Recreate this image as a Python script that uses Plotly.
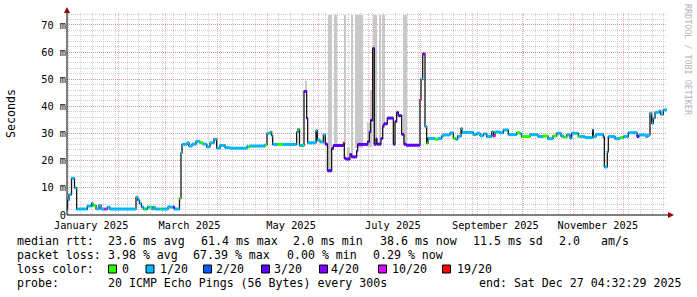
import pandas as pd
import plotly.graph_objects as go

# ---------------- data ----------------
range_start = "2025-01-01 00:00:00"
range_end = "2025-12-27 00:00:00"

# median rtt steps: day offset from range_start, value (ms), loss level index
median_day = [0.0, 0.3, 1.2, 2.7, 4.5, 5.8, 12.2, 14.7, 15.6, 17.4, 19.2, 20.4, 22.4, 23.8, 24.3, 25.8,
              41.4, 42.4, 43.5, 44.7, 45.9, 46.8, 48.3, 49.8, 51.0, 51.6, 52.8, 55.6, 56.4, 60.6, 61.8,
              63.6, 64.5, 67.5, 68.4, 69.0, 72.0, 73.2, 75.0, 77.4, 79.8, 81.6, 83.8, 85.8, 88.2, 89.8,
              91.8, 94.8, 97.8, 108.0, 108.6, 109.8, 118.8, 120.0, 122.2, 122.8, 123.4, 126.6, 129.6,
              137.8, 138.6, 139.5, 141.6, 142.2, 143.8, 144.4, 149.4, 150.2, 151.8, 153.8, 155.0, 156.3,
              158.8, 159.8, 165.8, 166.4, 167.4, 169.8, 170.8, 173.8, 174.4, 180.4, 181.4, 182.2, 183.4,
              184.4, 185.4, 186.0, 188.4, 189.4, 190.2, 192.2, 195.8, 196.8, 197.8, 198.8, 200.8, 202.2,
              203.4, 211.8, 212.4, 213.4, 214.8, 215.8, 216.6, 220.8, 222.6, 224.8, 225.6, 229.8, 231.8,
              233.2, 234.4, 236.4, 237.0, 243.8, 245.8, 247.8, 249.8, 251.8, 254.8, 255.8, 256.8, 259.8,
              261.8, 264.8, 269.8, 271.8, 272.8, 277.8, 282.6, 285.6, 288.6, 291.6, 293.8, 296.4, 297.8,
              299.8, 301.8, 302.8, 306.8, 307.8, 310.8, 315.4, 315.8, 317.4, 321.8, 322.4, 324.2, 324.8,
              328.8, 331.8, 333.8, 336.8, 342.0, 343.2, 347.4, 348.6, 349.8, 350.8, 351.8, 352.8, 355.4,
              356.2, 357.8]
median_ms = [2.2, 5.5, 7.5, 13.5, 10.0, 2.2, 3.3, 4.3, 3.5, 2.3, 3.5, 2.2, 2.2, 2.2, 2.9, 2.2,
             6.5, 5.5, 4.3, 2.9, 2.2, 2.2, 2.9, 2.9, 2.2, 2.9, 2.2, 2.2, 2.2, 3.0, 2.9,
             2.9, 2.2, 6.1, 22.8, 26.0, 26.6, 25.4, 26.1, 27.1, 26.6, 26.1, 25.1, 26.6, 27.9, 24.6,
             25.6, 24.8, 24.6, 25.3, 25.1, 25.4, 25.9, 30.1, 30.6, 29.2, 26.0, 26.0, 26.0,
             30.5, 31.6, 25.6, 25.6, 45.5, 35.6, 26.6, 31.1, 27.6, 26.9, 29.5, 26.1, 16.3,
             24.5, 25.6, 26.5, 20.9, 20.6, 22.3, 21.4, 23.6, 26.0, 27.0, 30.5, 34.9, 61.4,
             26.1, 28.0, 26.1, 28.2, 32.8, 33.6, 35.7, 26.1, 34.4, 37.8, 36.6, 29.7, 26.1,
             25.7, 42.5, 50.0, 59.3, 32.6, 26.4, 28.2, 27.9, 28.2, 29.0, 29.5, 30.2, 28.2,
             27.9, 29.0, 31.9, 30.4, 29.6, 30.1, 29.2, 29.9, 28.9, 30.6, 29.1, 30.6, 30.3,
             31.3, 29.6, 30.3, 29.9, 28.9, 29.6, 28.9, 29.1, 28.1, 29.1, 30.1, 29.1, 28.7,
             29.5, 28.3, 30.1, 28.9, 28.9, 28.5, 31.3, 28.9, 29.7, 28.7, 17.7, 23.3, 28.9,
             28.1, 28.5, 28.9, 30.3, 28.9, 29.5, 28.9, 29.5, 37.5, 33.8, 35.7, 37.8, 38.3,
             37.1, 38.7]
median_loss = [1, 1, 1, 1, 1, 1, 1, 1, 0, 1, 1, 1, 5, 1, 1, 1,
               1, 1, 1, 1, 0, 1, 1, 0, 1, 1, 1, 0, 1, 1, 1,
               3, 1, 0, 1, 1, 1, 1, 1, 1, 0, 1, 1, 1, 1, 1,
               1, 1, 1, 1, 0, 1, 0, 1, 0, 1, 1, 0, 1,
               1, 0, 1, 0, 3, 3, 1, 1, 1, 1, 1, 3, 3,
               3, 3, 6, 3, 3, 3, 3, 3, 3, 3, 3, 3, 3,
               3, 3, 3, 3, 3, 3, 3, 3, 3, 3, 3, 3, 3,
               3, 5, 1, 4, 1, 0, 1, 0, 1, 1, 1, 1, 0,
               1, 1, 1, 1, 1, 1, 1, 1, 1, 1, 5, 1, 1,
               1, 1, 0, 1, 0, 1, 1, 0, 1, 0, 1, 1, 0,
               1, 1, 1, 0, 1, 1, 1, 1, 1, 2, 1, 1, 1,
               1, 0, 1, 1, 3, 1, 1, 1, 1, 1, 1, 1, 1,
               1, 1]

# smoke (ping spread) bands: start/end day offset, low/high ms
smoke_start_day = [142.8, 153.8, 156.4, 160.4, 166.4, 168.2, 170.8, 172.8, 180.2, 181.8, 183.4, 187.4, 189.0, 201.4]
smoke_end_day = [144.0, 155.0, 158.8, 161.8, 167.2, 169.8, 171.8, 177.4, 181.8, 183.2, 186.2, 188.4, 190.8, 203.8]
smoke_lo_ms = [45.5, 26.0, 16.0, 25.5, 26.0, 20.0, 21.0, 24.5, 25.0, 25.0, 25.5, 26.0, 32.0, 26.0]
smoke_hi_ms = [49.5, 29.0, 73.8, 73.8, 73.8, 25.0, 73.8, 73.8, 34.0, 46.0, 73.8, 73.8, 73.8, 73.8]

loss_labels = ["0", "1/20", "2/20", "3/20", "4/20", "10/20", "19/20"]
loss_colors = ["#26ff00", "#00b8ff", "#0059ff", "#5e00ff", "#7e00ff", "#dd00ff", "#ff0000"]

month_label_dates = ["2025-01-15 12:00", "2025-03-15 12:00", "2025-05-15 12:00",
                     "2025-07-15 12:00", "2025-09-15 00:00", "2025-11-15 12:00"]
month_labels = ["January 2025", "March 2025", "May 2025", "July 2025", "September 2025", "November 2025"]

y_tick_vals = [0, 10, 20, 30, 40, 50, 60, 70]
y_tick_text = ["0", "10 m", "20 m", "30 m", "40 m", "50 m", "60 m", "70 m"]

rtt_items = ["median rtt:", "23.6 ms avg", "61.4 ms max", "2.0 ms min", "38.6 ms now", "11.5 ms sd", "2.0", "am/s"]
loss_items = ["packet loss:", "3.98 % avg", "67.39 % max", "0.00 % min", "0.29 % now"]
probe_items = ["probe:", "20 ICMP Echo Pings (56 Bytes) every 300s", "end: Sat Dec 27 04:32:29 2025"]

# ---------------- layout helpers ----------------
W, H = 697, 297
PL, PR, PT, PB = 67, 667, 13, 215


def px(x):
    return (x - PL) / (PR - PL)


def py(y):
    return (PB - y) / (PB - PT)


t0 = pd.Timestamp(range_start)
t_end = pd.Timestamp(range_end)


def d2t(d):
    return (t0 + pd.to_timedelta(d, unit="D")).strftime("%Y-%m-%d %H:%M:%S")


fig = go.Figure()

# smoke
centers, widths, heights = [], [], []
for s, e, lo, hi in zip(smoke_start_day, smoke_end_day, smoke_lo_ms, smoke_hi_ms):
    centers.append(d2t((s + e) / 2))
    widths.append((e - s) * 86400000)
    heights.append(hi - lo)
fig.add_trace(go.Bar(x=centers, y=heights, base=smoke_lo_ms, width=widths,
                     marker=dict(color="#c8c8c8", line=dict(width=0)), hoverinfo="skip"))

# black step line
times = [d2t(d) for d in median_day]
end_str = t_end.strftime("%Y-%m-%d %H:%M:%S")
fig.add_trace(go.Scatter(x=times + [end_str], y=median_ms + [median_ms[-1]], mode="lines",
                         line=dict(shape="hv", color="#1a1a1a", width=1.3), hoverinfo="skip"))

# coloured segments by loss
ends = times[1:] + [end_str]
for li, col in enumerate(loss_colors):
    xs, ys = [], []
    for a, b, v, l in zip(times, ends, median_ms, median_loss):
        if l == li:
            xs += [a, b, None]
            ys += [v, v, None]
    if xs:
        fig.add_trace(go.Scatter(x=xs, y=ys, mode="lines",
                                 line=dict(color=col, width=3), hoverinfo="skip"))

# invisible trace so the label axis is rendered
fig.add_trace(go.Scatter(x=[range_start, range_end], y=[None, None], xaxis="x2", yaxis="y",
                         mode="lines", hoverinfo="skip", showlegend=False))

grid_minor = "#cfcfcf"
grid_major = "rgba(230,110,110,0.55)"
axis_font = dict(family="DejaVu Sans Mono", size=10.3, color="#000")
leg_font = dict(family="DejaVu Sans Mono", size=11.6, color="#000")

fig.update_layout(
    width=W, height=H, margin=dict(l=PL, r=W - PR, t=PT, b=H - PB),
    paper_bgcolor="white", plot_bgcolor="white", showlegend=False,
    barmode="overlay", bargap=0,
    xaxis=dict(type="date", range=[range_start, range_end], tickmode="linear",
               tick0="2025-01-01", dtick="M1", showticklabels=False, ticks="",
               showgrid=True, gridcolor=grid_major, griddash="1px,1px", gridwidth=1,
               minor=dict(tickmode="linear", tick0="2025-01-02", dtick=7 * 86400000,
                          showgrid=True, gridcolor=grid_minor, griddash="1px,1px", gridwidth=1),
               zeroline=False, showline=False, fixedrange=True),
    xaxis2=dict(type="date", range=[range_start, range_end], overlaying="x", anchor="y",
                side="bottom", tickmode="array", tickvals=month_label_dates, ticktext=month_labels,
                showgrid=False, ticks="", showline=False, zeroline=False, tickfont=axis_font,
                ticklabelstandoff=3, fixedrange=True),
    yaxis=dict(range=[0, 74.4], tickmode="array", tickvals=y_tick_vals, ticktext=y_tick_text,
               showgrid=True, gridcolor=grid_major, griddash="1px,1px", gridwidth=1,
               minor=dict(tickmode="linear", tick0=0, dtick=2, showgrid=True,
                          gridcolor=grid_minor, griddash="1px,1px", gridwidth=1),
               ticks="", tickfont=axis_font, zeroline=False, showline=False, fixedrange=True),
)

shapes = []
# axis lines + arrows
shapes.append(dict(type="line", xref="paper", yref="paper", x0=0, x1=0, y0=0, y1=py(9),
                   line=dict(color="#000", width=1)))
shapes.append(dict(type="line", xref="paper", yref="paper", x0=0, x1=px(670), y0=0, y1=0,
                   line=dict(color="#000", width=1)))
shapes.append(dict(type="path", xref="paper", yref="paper",
                   path=f"M {px(64)},{py(13)} L {px(70)},{py(13)} L {px(67)},{py(7)} Z",
                   fillcolor="#990000", line=dict(width=0)))
shapes.append(dict(type="path", xref="paper", yref="paper",
                   path=f"M {px(668)},{py(212)} L {px(668)},{py(218)} L {px(674)},{py(215)} Z",
                   fillcolor="#990000", line=dict(width=0)))

annotations = []


def ann(text, x, y, font, **kw):
    d = dict(text=text, x=px(x), y=py(y), xref="paper", yref="paper", showarrow=False,
             xanchor="left", yanchor="middle", font=font, borderpad=0)
    d.update(kw)
    annotations.append(d)


ann("Seconds", 11, 114, leg_font, xanchor="center", textangle=-90)
ann("RRDTOOL / TOBI OETIKER", 688, 60, dict(family="DejaVu Sans Mono", size=8.4, color="#b4b4b4"),
    xanchor="center", textangle=90)

rtt_x = [16, 107, 200, 292, 379, 472, 558, 600]
for t, x in zip(rtt_items, rtt_x):
    ann(t, x, 241, leg_font)
loss_x = [16, 107, 192, 286, 372]
for t, x in zip(loss_items, loss_x):
    ann(t, x, 255, leg_font)
ann("loss color:", 16, 269, leg_font)
box_x = [108.5, 146, 203.5, 261.5, 319.5, 378.5, 442.5]
lab_x = [121, 159, 215, 273, 330, 391, 456]
for lab, col, bx, lx in zip(loss_labels, loss_colors, box_x, lab_x):
    shapes.append(dict(type="rect", xref="paper", yref="paper", x0=px(bx), x1=px(bx + 8),
                       y0=py(273), y1=py(265), fillcolor=col, line=dict(color="#000", width=1)))
    ann(lab, lx, 269, leg_font)
probe_x = [16, 107, 478]
for t, x in zip(probe_items, probe_x):
    ann(t, x, 283, leg_font)

fig.update_layout(shapes=shapes, annotations=annotations)
fig.write_html("out.html", config={"displayModeBar": False})
